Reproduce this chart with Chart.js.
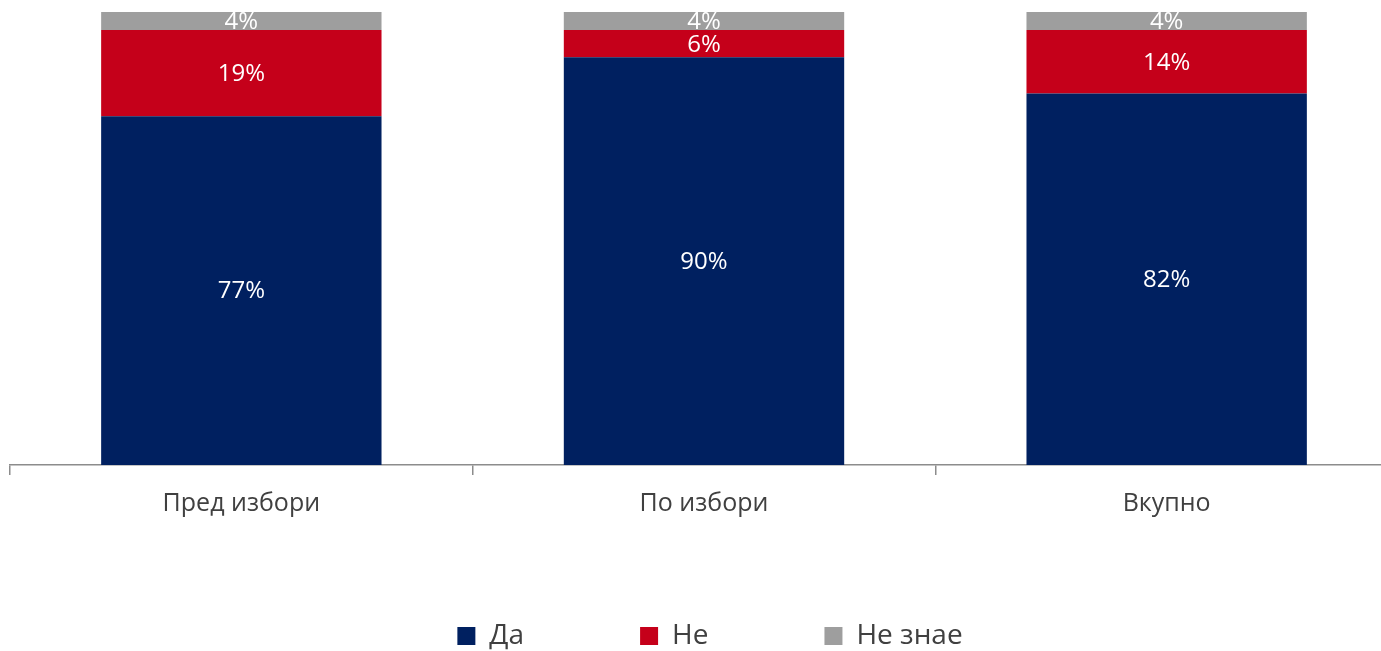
<!DOCTYPE html>
<html>
<head>
<meta charset="utf-8">
<script src="https://cdn.jsdelivr.net/npm/chart.js@4.4.1/dist/chart.umd.min.js"></script>
<style>
  html, body { margin: 0; padding: 0; background: #ffffff; overflow: hidden; }
  #wrap { position: absolute; left: 0; top: 0; width: 1398px; height: 651px; }
</style>
</head>
<body>
<div id="wrap"><canvas id="chart"></canvas></div>
<script>
// Survey answers by period, percentages
const categories = ['Пред избори', 'По избори', 'Вкупно'];
const seriesNames = ['Да', 'Не', 'Не знае'];
const yesValues = [77, 90, 82];
const noValues = [19, 6, 14];
const dontKnowValues = [4, 4, 4];
const seriesColors = ['#002060', '#C5001A', '#9E9E9E'];

const FONT = "'Open Sans', 'Noto Sans', sans-serif";
const LEGEND_BAND = 38;      // height the legend reserves at the bottom
const LEGEND_ROW_TOP = 506;  // legend box top used when drawing its row
const LEGEND_SHIFT_X = 6;    // nudges the centred legend row to the right

// Writes each segment's percentage in white at its centre
const segmentLabels = {
  id: 'segmentLabels',
  afterDatasetsDraw(chart) {
    const ctx = chart.ctx;
    ctx.save();
    ctx.fillStyle = '#ffffff';
    ctx.font = '24px ' + FONT;
    ctx.textAlign = 'center';
    ctx.textBaseline = 'middle';
    chart.data.datasets.forEach((ds, di) => {
      const meta = chart.getDatasetMeta(di);
      meta.data.forEach((bar, i) => {
        const v = ds.data[i];
        const p = bar.getProps(['x', 'y', 'base'], true);
        ctx.fillText(v + '%', p.x, (p.y + p.base) / 2 + 1);
      });
    });
    ctx.restore();
  }
};

// The wide item spacing also pads the legend vertically; keep its band short
// and place the row near the bottom edge instead.
const compactLegend = {
  id: 'compactLegend',
  afterInit(chart) {
    const legend = chart.legend;
    if (!legend || legend._compactPatched) return;
    const fit = legend.fit.bind(legend);
    legend.fit = function () {
      fit();
      this.height = LEGEND_BAND;
    };
    legend._compactPatched = true;
  },
  afterLayout(chart) {
    const legend = chart.legend;
    if (!legend) return;
    legend.top = LEGEND_ROW_TOP;
    legend.left += LEGEND_SHIFT_X;
    legend.right += LEGEND_SHIFT_X;
  }
};

const valueLists = [yesValues, noValues, dontKnowValues];

new Chart(document.getElementById('chart'), {
  type: 'bar',
  data: {
    labels: categories,
    datasets: seriesNames.map((name, k) => ({
      label: name,
      data: valueLists[k],
      backgroundColor: seriesColors[k],
      borderWidth: 0,
      categoryPercentage: 1,
      barPercentage: 0.606
    }))
  },
  options: {
    responsive: true,
    maintainAspectRatio: false,
    animation: false,
    layout: { padding: { left: 10, top: 12, right: 0, bottom: 0 } },
    plugins: {
      tooltip: { enabled: false },
      legend: {
        position: 'bottom',
        labels: {
          boxWidth: 18,
          boxHeight: 18,
          padding: 116,
          color: '#404040',
          font: { family: FONT, size: 28 }
        }
      }
    },
    scales: {
      x: {
        stacked: true,
        offset: true,
        grid: {
          display: true,
          drawOnChartArea: false,
          drawTicks: true,
          tickLength: 10,
          offset: true,
          color: '#8c8c8c',
          lineWidth: 1.5
        },
        border: { display: true, color: '#8c8c8c', width: 1.5 },
        ticks: {
          color: '#404040',
          padding: 14,
          font: { family: FONT, size: 25 }
        },
        afterFit(scale) { scale.height = 148; }
      },
      y: {
        stacked: true,
        display: false,
        min: 0,
        max: 100
      }
    }
  },
  plugins: [compactLegend, segmentLabels]
});
</script>
</body>
</html>
